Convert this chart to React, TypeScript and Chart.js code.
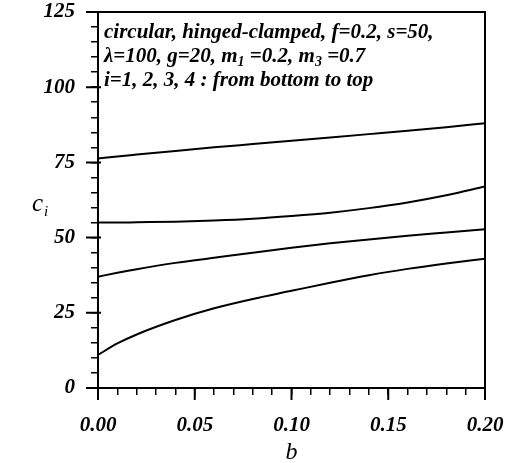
import React, { useEffect, useRef } from 'react';
import { Chart, registerables } from 'chart.js';

Chart.register(...registerables);

// b values (x) shared by all curves
const bValues = [0, 0.01, 0.02, 0.04, 0.06, 0.08, 0.1, 0.12, 0.14, 0.16, 0.18, 0.2];
// c_i values, i = 1..4 (bottom to top)
const c1 = [11.0, 14.8, 17.8, 22.6, 26.5, 29.6, 32.3, 35.0, 37.5, 39.6, 41.4, 43.0];
const c2 = [37.0, 38.3, 39.5, 41.6, 43.3, 45.0, 46.6, 48.1, 49.4, 50.6, 51.7, 52.8];
const c3 = [55.0, 55.0, 55.1, 55.3, 55.7, 56.3, 57.2, 58.3, 59.8, 61.7, 64.1, 67.0];
const c4 = [76.3, 77.0, 77.6, 78.8, 80.0, 81.1, 82.2, 83.3, 84.4, 85.5, 86.7, 88.0];

const xMajorTicks = [0, 0.05, 0.1, 0.15, 0.2];
const yMajorTicks = [0, 25, 50, 75, 100, 125];

const annotationLines: { t: string; sub?: boolean }[][] = [
  [{ t: 'circular, hinged-clamped, f=0.2, s=50,' }],
  [{ t: 'λ=100, g=20, m' }, { t: '1', sub: true }, { t: ' =0.2, m' }, { t: '3', sub: true }, { t: ' =0.7' }],
  [{ t: 'i=1, 2, 3, 4 : from bottom to top' }],
];

const FONT_FAMILY = '"Liberation Serif", "DejaVu Serif", serif';

const decorPlugin = {
  id: 'decor',
  afterDraw(chart: any) {
    const ctx = chart.ctx as CanvasRenderingContext2D;
    const { left, right, top, bottom } = chart.chartArea;
    const xs = chart.scales.x;
    const ys = chart.scales.y;
    ctx.save();
    ctx.strokeStyle = '#000';
    ctx.fillStyle = '#000';
    // frame
    ctx.lineWidth = 2;
    ctx.strokeRect(left, top, right - left, bottom - top);
    // major ticks
    ctx.lineWidth = 2;
    ctx.beginPath();
    for (const v of yMajorTicks) {
      const py = ys.getPixelForValue(v);
      ctx.moveTo(left - 12, py);
      ctx.lineTo(left + 3, py);
    }
    for (const v of xMajorTicks) {
      const px = xs.getPixelForValue(v);
      ctx.moveTo(px, bottom);
      ctx.lineTo(px, bottom + 12);
    }
    ctx.stroke();

    // annotation
    const mainFont = `italic bold 21px ${FONT_FAMILY}`;
    const subFont = `italic bold 14px ${FONT_FAMILY}`;
    ctx.textBaseline = 'alphabetic';
    ctx.textAlign = 'left';
    annotationLines.forEach((segs, i) => {
      let x = left + 6;
      const y = top + 26 + i * 24;
      for (const s of segs) {
        ctx.font = s.sub ? subFont : mainFont;
        ctx.fillText(s.t, x, s.sub ? y + 4 : y);
        x += ctx.measureText(s.t).width;
      }
    });

    // axis titles
    ctx.font = `italic 24px ${FONT_FAMILY}`;
    ctx.textAlign = 'center';
    ctx.fillText('b', (left + right) / 2, 459);
    ctx.textAlign = 'left';
    ctx.font = `italic 25px ${FONT_FAMILY}`;
    ctx.fillText('c', 32, 211);
    const cw = ctx.measureText('c').width;
    ctx.font = `italic 15px ${FONT_FAMILY}`;
    ctx.fillText('i', 32 + cw + 1, 216);
    ctx.restore();
  },
};

export default function App() {
  const ref = useRef<HTMLCanvasElement | null>(null);

  useEffect(() => {
    if (!ref.current) return;
    const mk = (vals: number[]) => bValues.map((b, i) => ({ x: b, y: vals[i] }));
    const tickFont = { family: FONT_FAMILY, size: 21, style: 'italic' as const, weight: 'bold' as const };
    const series = [c1, c2, c3, c4];
    const chart = new Chart(ref.current, {
      type: 'line',
      data: {
        datasets: series.map((s, i) => ({
          label: `c${i + 1}`,
          data: mk(s),
          borderColor: '#000',
          borderWidth: 2,
          pointRadius: 0,
          fill: false,
          cubicInterpolationMode: 'monotone' as const,
        })),
      },
      options: {
        responsive: false,
        animation: false,
        layout: { padding: { left: 0, right: 25, top: 12, bottom: 0 } },
        plugins: {
          legend: { display: false },
          tooltip: { enabled: false },
          title: { display: false },
        },
        scales: {
          x: {
            type: 'linear',
            min: 0,
            max: 0.2,
            afterFit: (scale: any) => {
              scale.height = 75;
              scale.paddingLeft = 0;
              scale.paddingRight = 0;
            },
            ticks: {
              stepSize: 0.01,
              autoSkip: false,
              maxRotation: 0,
              padding: 18,
              color: '#000',
              font: tickFont,
              callback: (v: any) => (Math.round(Number(v) * 100) % 5 === 0 ? Number(v).toFixed(2) : ''),
            },
            grid: {
              display: true,
              drawOnChartArea: false,
              drawTicks: true,
              tickLength: 7,
              color: '#000',
              lineWidth: 1.5,
            },
            border: { display: true, color: '#000', width: 2 },
          },
          y: {
            type: 'linear',
            min: 0,
            max: 125,
            afterFit: (scale: any) => {
              scale.width = 98;
              scale.paddingTop = 0;
              scale.paddingBottom = 0;
            },
            ticks: {
              stepSize: 5,
              autoSkip: false,
              padding: 16,
              color: '#000',
              font: tickFont,
              callback: (v: any) => (Number(v) % 25 === 0 ? String(v) : ''),
            },
            grid: {
              display: true,
              drawOnChartArea: false,
              drawTicks: true,
              tickLength: 7,
              color: '#000',
              lineWidth: 1.5,
            },
            border: { display: true, color: '#000', width: 2 },
          },
        },
      },
      plugins: [decorPlugin],
    });
    return () => chart.destroy();
  }, []);

  return (
    <div style={{ position: 'fixed', left: 0, top: 0, width: 510, height: 463, background: '#fff' }}>
      <canvas ref={ref} width={510} height={463} style={{ display: 'block' }} />
    </div>
  );
}
